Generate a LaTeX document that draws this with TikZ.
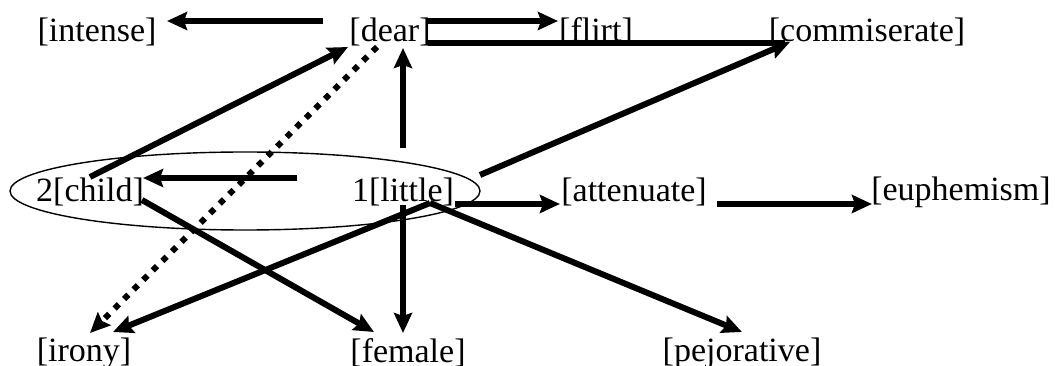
\documentclass[tikz,border=0pt]{standalone}
\usepackage{fontspec}
\setmainfont{Liberation Serif}
\usetikzlibrary{arrows.meta,calc,shapes.geometric}

\tikzset{
  term/.style={inner sep=0pt, anchor=center, font=\fontsize{34}{40}\selectfont},
  link/.style={line width=6pt, -{Stealth[length=20pt,width=18pt,inset=3pt]}},
  plainlink/.style={line width=6pt},
  dotlink/.style={line width=6pt, dash pattern=on 6pt off 7.5pt,
    -{Stealth[length=20pt,width=18pt,inset=3pt]}},
  group/.style={draw, ellipse, line width=1.4pt, inner sep=0pt}
}

\begin{document}
\begin{tikzpicture}[x=1pt,y=-1pt]
\useasboundingbox (0,0) rectangle (1055,366);

% grouping ellipse round the two source terms
\node[group, minimum width=470pt, minimum height=78pt] (grp) at (245,191) {};

% top row
\node[term] (intense) at (97,32) {[intense]};
\node[term] (dear) at (390,32) {[dear]};
\node[term] (flirt) at (596,32) {[flirt]};
\node[term] (commis) at (867,32) {[commiserate]};

% middle row
\node[term] (child) at (90,192) {2[child]};
\node[term] (little) at (403,192) {1[little]};
\node[term] (atten) at (634,192) {[attenuate]};
\node[term] (euph) at (961,192) {[euphemism]};

% bottom row
\node[term] (irony) at (84,353) {[irony]};
\node[term] (female) at (408,353) {[female]};
\node[term] (pejor) at (742,353) {[pejorative]};

% connectors from [dear]
\draw[link] ($(dear)+(-67,-11)$) -- ($(intense)+(70,-11)$);
\draw[link] ($(dear)+(38,-11)$) -- ($(flirt)+(-38,-11)$);
\draw[plainlink] ($(dear)+(38,11)$) -- ($(commis)+(-82,11)$);
\draw[dotlink] ($(dear)+(-13,15)$) -- ($(irony)+(6,-20)$);

% connectors from 2[child]
\draw[link] ($(child)+(0,-15)$) -- ($(dear)+(-42,15)$);
\draw[link] ($(child)+(52,8)$) -- ($(female)+(-34,-21)$);

% connectors from 1[little]
\draw[link] ($(little)+(0,-44)$) -- ($(dear)+(13,16)$);
\draw[link] ($(little)+(-106,-14)$) -- ($(child)+(53,-14)$);
\draw[link] ($(little)+(77,-17)$) -- ($(commis)+(-77,10)$);
\draw[link] ($(little)+(52,12)$) -- ($(atten)+(-74,12)$);
\draw[link] ($(little)+(0,13)$) -- ($(female)+(-5,-20)$);
\draw[link] ($(little)+(27,11)$) -- ($(irony)+(29,-21)$);
\draw[link] ($(little)+(27,11)$) -- ($(pejor)+(0,-21)$);

% [attenuate] to [euphemism]
\draw[link] ($(atten)+(83,12)$) -- ($(euph)+(-89,12)$);
\end{tikzpicture}
\end{document}
